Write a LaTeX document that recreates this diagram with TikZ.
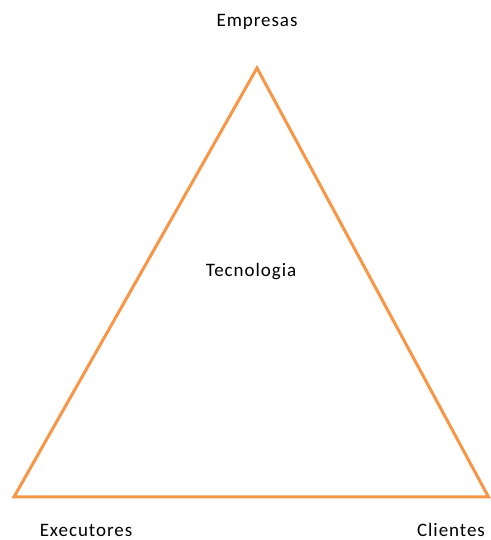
\documentclass[tikz,border=0pt]{standalone}
\usepackage{fontspec}
\setmainfont{Carlito}[LetterSpace=5]
\usepackage{xcolor}
\usepackage{tikz}
\usetikzlibrary{positioning, calc}

\definecolor{triorange}{RGB}{247,150,70}

\begin{document}
\begin{tikzpicture}[x=1pt, y=1pt,
    lbl/.style={font=\fontsize{19}{22}\selectfont, inner sep=0pt}]
  \useasboundingbox (0, 0) rectangle (490, 540);
  \coordinate (top) at (257, 472);
  \coordinate (left) at (14, 43);
  \coordinate (right) at (488.5, 43);
  \draw[triorange, line width=3pt, line join=miter] (top) -- (right) -- (left) -- cycle;
  \node[lbl] (emp) at (257, 518) {Empresas};
  \node[lbl] (tec) at (251, 268) {Tecnologia};
  \node[lbl] (exe) at (86, 10) {Executores};
  \node[lbl] (cli) at (451, 10) {Clientes};
\end{tikzpicture}
\end{document}
